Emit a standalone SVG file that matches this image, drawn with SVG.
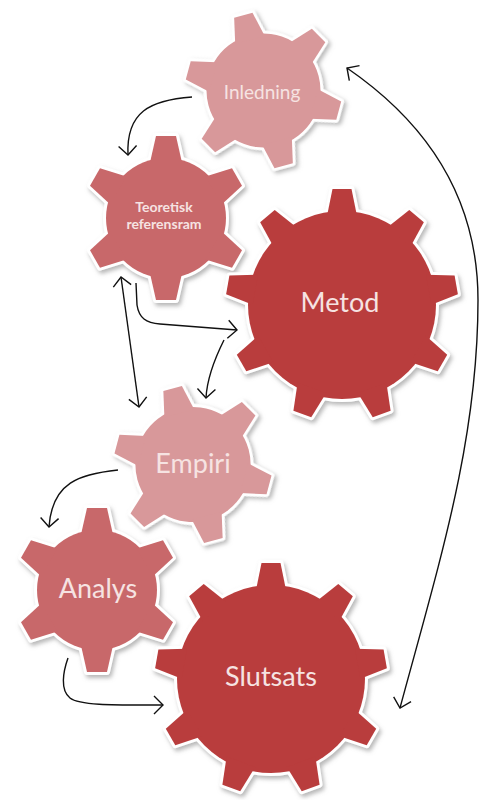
<svg xmlns="http://www.w3.org/2000/svg" width="481" height="800" viewBox="0 0 481 800">
<defs>
<style>
.outline{fill:#fff;stroke:#fff;stroke-width:6;stroke-linejoin:round;filter:url(#sh)}
.light{fill:#D8989A}
.mid{fill:#C8686A}
.dark{fill:#B93D3D}
.lbl{font-family:Lato,"Open Sans",sans-serif;text-anchor:middle;fill:#F6E3E2}
.conn path{fill:none;stroke:#111;stroke-width:1.4}
</style>
<filter id="sh" x="-20%" y="-20%" width="140%" height="140%">
<feDropShadow dx="2" dy="3" stdDeviation="2" flood-color="#888" flood-opacity="0.6"/>
</filter>
<marker id="ah" viewBox="-12 -12 14 24" markerWidth="14" markerHeight="24" refX="0" refY="0" orient="auto-start-reverse" markerUnits="userSpaceOnUse">
<path d="M-9,-9 L0,0 L-9,9" fill="none" stroke="#111" stroke-width="1.4"/>
</marker>
<g id="sg">
<circle r="60"/>
<polygon id="st" points="-16.1,-55 16.1,-55 10,-82 -10,-82"/>
<use href="#st" transform="rotate(60)"/>
<use href="#st" transform="rotate(120)"/>
<use href="#st" transform="rotate(180)"/>
<use href="#st" transform="rotate(240)"/>
<use href="#st" transform="rotate(300)"/>
</g>
<g id="bg">
<circle r="94"/>
<polygon id="bt" points="-15.2,-88 15.2,-88 9.5,-116 -9.5,-116"/>
<use href="#bt" transform="rotate(40)"/>
<use href="#bt" transform="rotate(80)"/>
<use href="#bt" transform="rotate(120)"/>
<use href="#bt" transform="rotate(160)"/>
<use href="#bt" transform="rotate(200)"/>
<use href="#bt" transform="rotate(240)"/>
<use href="#bt" transform="rotate(280)"/>
<use href="#bt" transform="rotate(320)"/>
</g>
</defs>
<rect width="481" height="800" fill="#fff"/>

<g id="inledning">
<g transform="translate(263.5,90.5) rotate(-15) scale(0.95)">
<use href="#sg" class="outline"/><use href="#sg" class="light"/>
</g>
<text x="262" y="99" class="lbl" font-size="19">Inledning</text>
</g>

<g id="teoretisk">
<g transform="translate(166,218)">
<use href="#sg" class="outline"/><use href="#sg" class="mid"/>
</g>
<text x="164" y="212" class="lbl" font-size="14" font-weight="bold">Teoretisk</text>
<text x="164" y="229" class="lbl" font-size="14" font-weight="bold">referensram</text>
</g>

<g id="metod">
<g transform="translate(342,305)">
<use href="#bg" class="outline"/><use href="#bg" class="dark"/>
</g>
<text x="340" y="312" class="lbl" font-size="27">Metod</text>
</g>

<g id="empiri">
<g transform="translate(193,464.5) rotate(-15) scale(0.96)">
<use href="#sg" class="outline"/><use href="#sg" class="light"/>
</g>
<text x="193" y="473" class="lbl" font-size="27">Empiri</text>
</g>

<g id="analys">
<g transform="translate(97,590)">
<use href="#sg" class="outline"/><use href="#sg" class="mid"/>
</g>
<text x="98" y="598" class="lbl" font-size="27">Analys</text>
</g>

<g id="slutsats">
<g transform="translate(271,679)">
<use href="#bg" class="outline"/><use href="#bg" class="dark"/>
</g>
<text x="271" y="686" class="lbl" font-size="27">Slutsats</text>
</g>

<g id="connectors" class="conn">
<path d="M192,97 C150,100 126,112 128,155" marker-end="url(#ah)"/>
<path d="M121,277 L139,407" marker-start="url(#ah)" marker-end="url(#ah)"/>
<path d="M136,283 L137,305 C139,318 146,323 160,324 L237,330" marker-end="url(#ah)"/>
<path d="M224,340 C214,360 207,378 206,398" marker-end="url(#ah)"/>
<path d="M118,470 C80,474 52,482 49,527" marker-end="url(#ah)"/>
<path d="M68,658 C63,672 60,690 70,698 C80,706 120,705 163,705" marker-end="url(#ah)"/>
<path d="M347,68 C430,125 478,200 478,300 C478,440 440,560 400,708" marker-start="url(#ah)" marker-end="url(#ah)"/>
</g>
</svg>
